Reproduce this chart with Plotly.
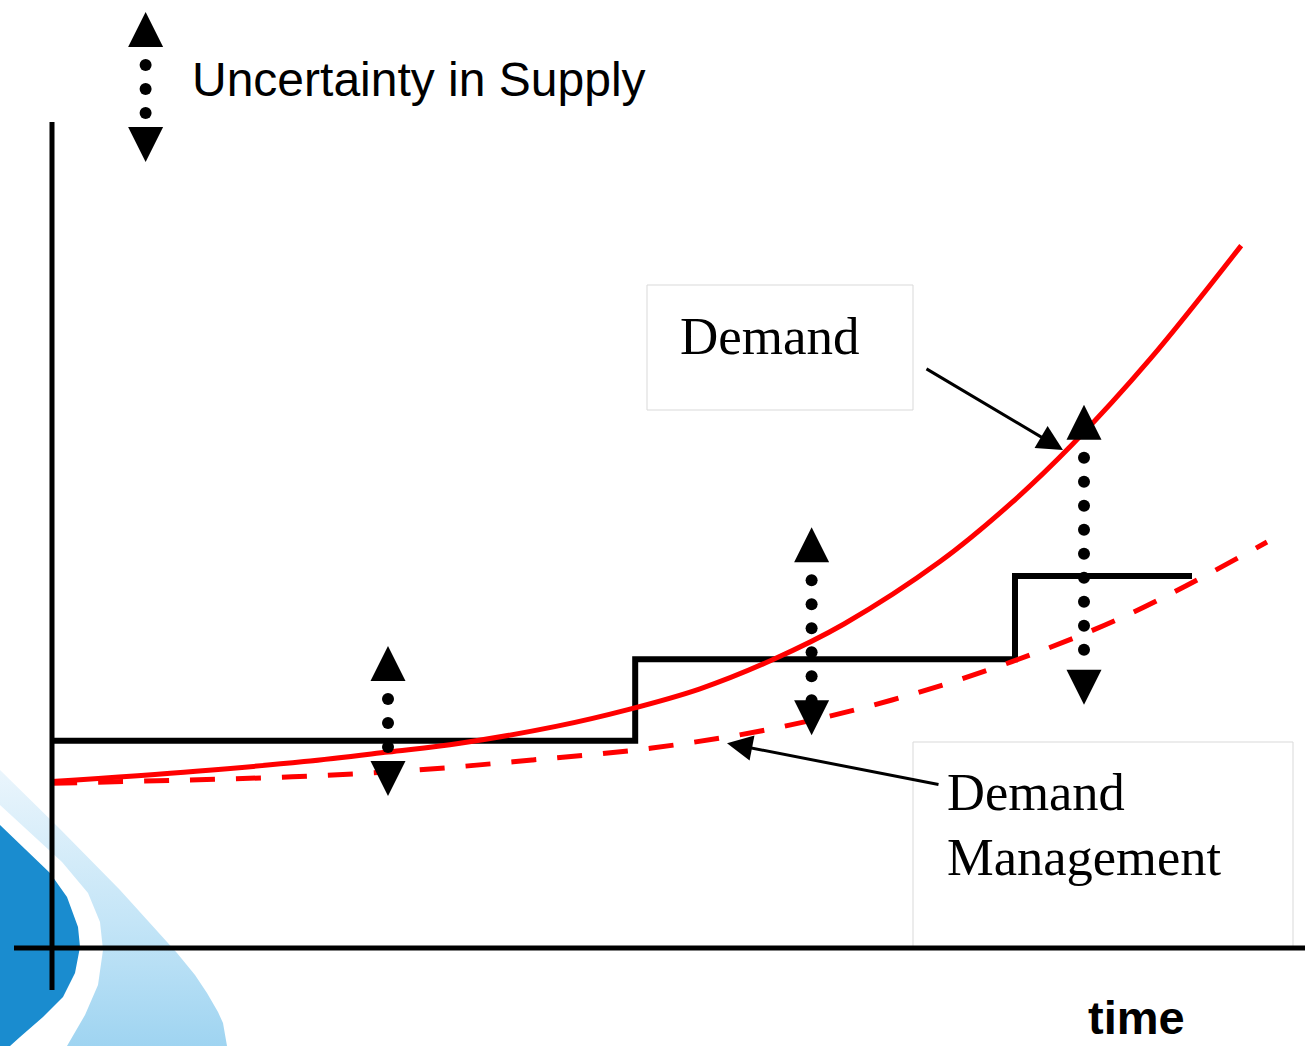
import numpy as np
import plotly.graph_objects as go

W, H = 1307, 1046

# ---------------- data (conceptual units: time, quantity) ----------------
time_demand = [0, 12, 21, 28, 34, 42, 48, 54, 60, 66, 74, 80, 85, 91.5, 99.1]
demand = [20.8, 22.1, 23.3, 24.5, 25.6, 27.7, 29.8, 32.4, 36.0, 40.5, 48.3, 55.7, 62.9, 73.6, 87.8]

time_dm = [0, 10, 20, 30, 40, 50, 60, 70, 80, 90, 101.25]
demand_mgmt = [20.6, 20.95, 21.4, 22.2, 23.5, 25.0, 27.4, 31.0, 35.8, 41.9, 50.75]

supply_time = [0, 48.6, 80.25, 95]
supply = [25.9, 36.1, 46.5, 46.5]

unc_time = [28, 63.3, 86.0]
unc_high = [37.75, 52.6, 67.9]
unc_low = [19.0, 26.6, 30.4]

legend_time = 7.8
legend_high = 117.0
legend_low = 98.25

labels = {"legend": "Uncertainty in Supply", "demand": "Demand",
          "dm1": "Demand", "dm2": "Management", "x": "time"}

# ---------------- axes scaling (1 time unit = 12px, 1 qty unit = 8px) ----------------
X0_PX, Y0_PX, SX, SY = 52, 948, 12.0, 8.0
x_range = [-X0_PX / SX, (W - X0_PX) / SX]
y_range = [(Y0_PX - H) / SY, Y0_PX / SY]


def px(xp):
    return xp / W


def py(yp):
    return 1 - yp / H


def to_data(points):
    xs = [(a - X0_PX) / SX for a, b in points]
    ys = [(Y0_PX - b) / SY for a, b in points]
    return xs, ys


TRI = 35  # arrow-head marker size (px)
TRI_U = TRI / SY
DOT_GAP = 24 / SY
DOT_OFF = 18 / SY

fig = go.Figure()

# ---- decorative background swoosh (bottom-left) ----
light_pts = [(0, 770), (60, 829), (120, 890), (160, 935), (177, 953), (195, 975), (207, 993),
             (218, 1012), (223, 1023), (227, 1046), (67, 1046), (85, 1015), (98, 985),
             (103, 950), (100, 922), (88, 893), (62, 862), (0, 805)]
dark_pts = [(0, 825), (50, 873), (67, 897), (78, 927), (80, 947), (75, 973), (63, 997),
            (43, 1017), (20, 1037), (10, 1046), (0, 1046)]
lx, ly = to_data(light_pts)
fig.add_trace(go.Scatter(x=lx + [lx[0]], y=ly + [ly[0]], mode="lines", fill="toself",
                         line=dict(width=0, color="rgba(0,0,0,0)"),
                         fillgradient=dict(type="vertical",
                                           colorscale=[[0, "#9fd4f1"], [0.45, "#c4e5f7"], [1, "#eaf5fc"]]),
                         hoverinfo="skip"))
dx, dy = to_data(dark_pts)
fig.add_trace(go.Scatter(x=dx + [dx[0]], y=dy + [dy[0]], mode="lines", fill="toself",
                         line=dict(width=0, color="rgba(0,0,0,0)"), fillcolor="#1a8ccf",
                         hoverinfo="skip"))

# supply step line
fig.add_trace(go.Scatter(x=supply_time, y=supply, mode="lines", line_shape="hv",
                         line=dict(color="black", width=6), hoverinfo="skip"))
# demand management (dashed)
fig.add_trace(go.Scatter(x=time_dm, y=demand_mgmt, mode="lines", line_shape="spline",
                         line=dict(color="#ff0000", width=5, dash="25px,21px"), hoverinfo="skip"))
# demand (solid)
fig.add_trace(go.Scatter(x=time_demand, y=demand, mode="lines", line_shape="spline",
                         line=dict(color="#ff0000", width=5), hoverinfo="skip"))


def add_unc_arrow(t, hi, lo):
    up_base = hi - TRI_U
    down_base = lo + TRI_U
    dots = np.arange(up_base - DOT_OFF, down_base - 0.1, -DOT_GAP)
    fig.add_trace(go.Scatter(x=[t] * len(dots), y=dots, mode="markers",
                             marker=dict(symbol="circle", size=12, color="black", line_width=0),
                             hoverinfo="skip"))
    fig.add_trace(go.Scatter(x=[t], y=[hi], mode="markers",
                             marker=dict(symbol="arrow-up", size=TRI, color="black", line_width=0),
                             hoverinfo="skip"))
    fig.add_trace(go.Scatter(x=[t], y=[lo], mode="markers",
                             marker=dict(symbol="arrow-down", size=TRI, color="black", line_width=0),
                             hoverinfo="skip"))


for t, hi, lo in zip(unc_time, unc_high, unc_low):
    add_unc_arrow(t, hi, lo)
add_unc_arrow(legend_time, legend_high, legend_low)

shapes = []
# text boxes
shapes.append(dict(type="rect", xref="paper", yref="paper", x0=px(647), x1=px(913), y0=py(410), y1=py(285),
                   fillcolor="white", line=dict(color="#d9d9d9", width=1), layer="below"))
shapes.append(dict(type="rect", xref="paper", yref="paper", x0=px(913), x1=px(1293), y0=py(948), y1=py(742),
                   fillcolor="white", line=dict(color="#d9d9d9", width=1), layer="below"))
# axes lines
shapes.append(dict(type="line", xref="x", yref="y", x0=0, x1=0, y0=(Y0_PX - 990) / SY, y1=(Y0_PX - 122) / SY,
                   line=dict(color="black", width=5), layer="above"))
shapes.append(dict(type="line", xref="x", yref="y", x0=(14 - X0_PX) / SX, x1=(1305 - X0_PX) / SX, y0=0, y1=0,
                   line=dict(color="black", width=5), layer="above"))

serif = "Times New Roman, Liberation Serif, serif"
sans = "Arial, Liberation Sans, sans-serif"
annotations = [
    dict(xref="paper", yref="paper", x=px(190), y=py(79), text=labels["legend"], showarrow=False,
         xanchor="left", yanchor="middle", font=dict(family=sans, size=48, color="black")),
    dict(xref="paper", yref="paper", x=px(678), y=py(336), text=labels["demand"], showarrow=False,
         xanchor="left", yanchor="middle", font=dict(family=serif, size=53, color="black")),
    dict(xref="paper", yref="paper", x=px(945), y=py(792), text=labels["dm1"], showarrow=False,
         xanchor="left", yanchor="middle", font=dict(family=serif, size=52.5, color="black")),
    dict(xref="paper", yref="paper", x=px(945), y=py(857), text=labels["dm2"], showarrow=False,
         xanchor="left", yanchor="middle", font=dict(family=serif, size=52.5, color="black")),
    dict(xref="paper", yref="paper", x=px(1136), y=py(1017), text="<b>" + labels["x"] + "</b>", showarrow=False,
         xanchor="center", yanchor="middle", font=dict(family=sans, size=47, color="black")),
    # pointer arrows
    dict(xref="x", yref="y", axref="x", ayref="y", x=84.25, y=62.25, ax=72.75, ay=72.5, text="",
         showarrow=True, arrowhead=2, arrowwidth=3, arrowsize=1.7, arrowcolor="black", standoff=0),
    dict(xref="x", yref="y", axref="x", ayref="y", x=56.25, y=25.6, ax=74.0, ay=20.4, text="",
         showarrow=True, arrowhead=2, arrowwidth=3, arrowsize=1.7, arrowcolor="black", standoff=0),
]

fig.update_layout(
    width=W, height=H, autosize=False,
    margin=dict(l=0, r=0, t=0, b=0, pad=0),
    paper_bgcolor="white", plot_bgcolor="white",
    showlegend=False,
    xaxis=dict(range=x_range, visible=False, fixedrange=True),
    yaxis=dict(range=y_range, visible=False, fixedrange=True),
    shapes=shapes, annotations=annotations,
)

fig.write_html("out.html", config={"displayModeBar": False})
